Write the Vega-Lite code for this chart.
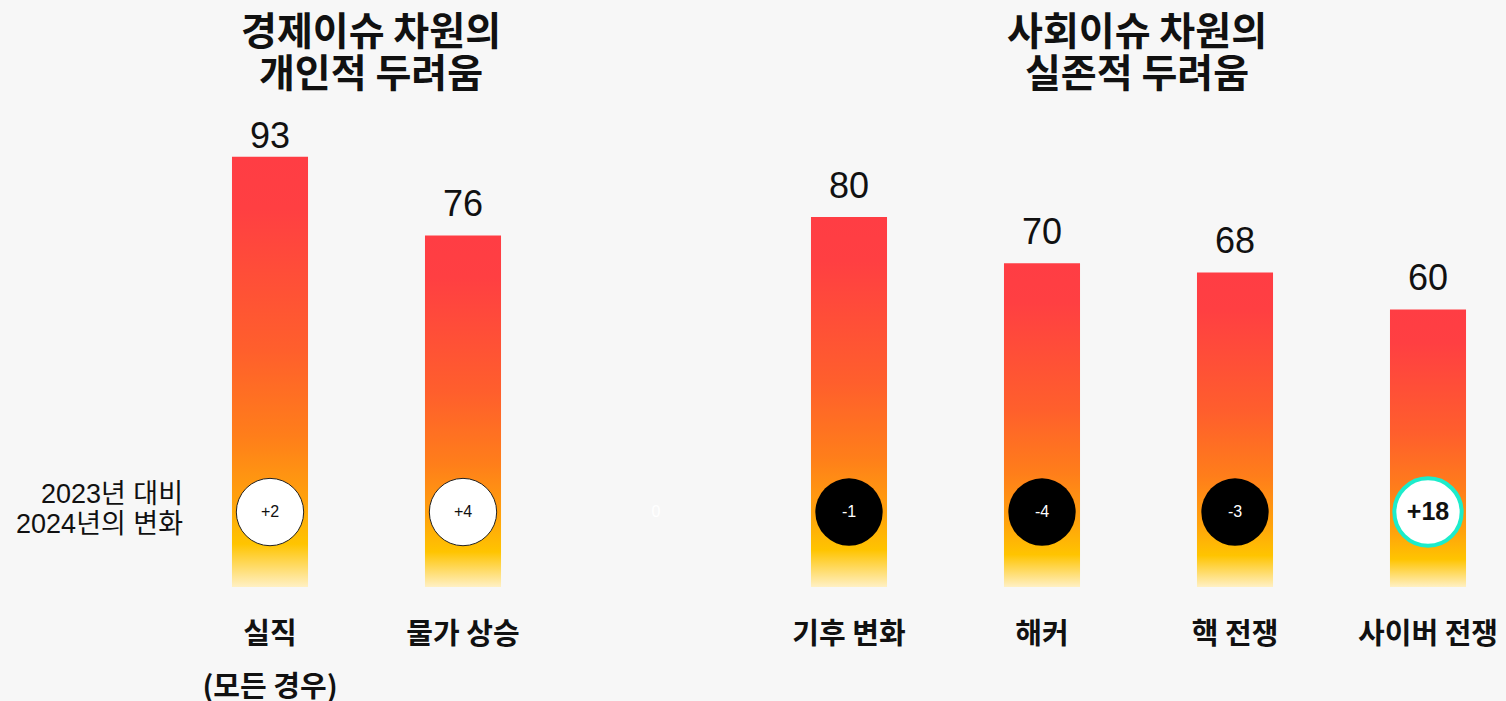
{
  "$schema": "https://vega.github.io/schema/vega-lite/v6.json",
  "width": 1506,
  "height": 701,
  "autosize": {"type": "none"},
  "padding": 0,
  "background": "#f7f7f7",
  "config": {"view": {"stroke": null}, "font": "Liberation Sans, Noto Sans CJK KR"},
  "data": {
    "values": [
      {"issue": "실직", "label": "실직\n(모든 경우)", "group": "경제", "value": 93, "change": 2},
      {"issue": "물가 상승", "label": "물가 상승", "group": "경제", "value": 76, "change": 4},
      {"issue": "_gap", "label": "", "group": "", "value": null, "change": 0},
      {"issue": "기후 변화", "label": "기후 변화", "group": "사회", "value": 80, "change": -1},
      {"issue": "해커", "label": "해커", "group": "사회", "value": 70, "change": -4},
      {"issue": "핵 전쟁", "label": "핵 전쟁", "group": "사회", "value": 68, "change": -3},
      {"issue": "사이버 전쟁", "label": "사이버 전쟁", "group": "사회", "value": 60, "change": 18}
    ]
  },
  "encoding": {
    "x": {
      "field": "issue",
      "type": "nominal",
      "sort": null,
      "axis": null,
      "scale": {
        "domain": ["실직", "물가 상승", "_gap", "기후 변화", "해커", "핵 전쟁", "사이버 전쟁"],
        "range": [173.5, 1524.5],
        "paddingInner": 0.606,
        "paddingOuter": 0.303
      }
    }
  },
  "layer": [
    {
      "transform": [{"filter": "isValid(datum.value)"}],
      "mark": {
        "type": "bar",
        "fill": {
          "gradient": "linear",
          "x1": 0, "y1": 0, "x2": 0, "y2": 1,
          "stops": [
            {"offset": 0, "color": "#ff3d44"},
            {"offset": 0.12, "color": "#ff3f42"},
            {"offset": 0.45, "color": "#ff5f2c"},
            {"offset": 0.65, "color": "#ff7e1a"},
            {"offset": 0.8, "color": "#ffa20c"},
            {"offset": 0.9, "color": "#ffc400"},
            {"offset": 1, "color": "#fff0c4"}
          ]
        }
      },
      "encoding": {
        "y": {"field": "value", "type": "quantitative", "axis": null, "scale": {"domain": [-24.65, 126.9], "nice": false, "zero": false}},
        "y2": {"datum": 0}
      }
    },
    {
      "transform": [{"filter": "isValid(datum.value) && datum.value > 90"}],
      "mark": {"type": "text", "baseline": "alphabetic", "dy": -9, "fontSize": 36, "font": "Liberation Sans", "color": "#111111"},
      "encoding": {
        "y": {"field": "value", "type": "quantitative"},
        "text": {"field": "value", "type": "quantitative"}
      }
    },
    {
      "transform": [{"filter": "isValid(datum.value) && datum.value <= 90"}],
      "mark": {"type": "text", "baseline": "alphabetic", "dy": -19, "fontSize": 36, "font": "Liberation Sans", "color": "#111111"},
      "encoding": {
        "y": {"field": "value", "type": "quantitative"},
        "text": {"field": "value", "type": "quantitative"}
      }
    },
    {
      "transform": [{"filter": "datum.change != 0"}],
      "mark": {"type": "point", "shape": "circle", "size": 4536, "filled": true, "opacity": 1},
      "encoding": {
        "y": {"datum": 16.2},
        "fill": {"condition": {"test": "datum.change < 0", "value": "#000000"}, "value": "#ffffff"},
        "stroke": {"condition": {"test": "datum.change >= 10", "value": "#1ceccb"}, "value": "#222222"},
        "strokeWidth": {"condition": {"test": "datum.change >= 10", "value": 4}, "value": 1},
        "strokeOpacity": {"condition": {"test": "datum.change < 0", "value": 0}, "value": 1}
      }
    },
    {
      "transform": [
        {"filter": "abs(datum.change) < 10"},
        {"calculate": "datum.change > 0 ? '+' + datum.change : '' + datum.change", "as": "chg"}
      ],
      "mark": {"type": "text", "baseline": "middle", "fontSize": 16, "font": "Liberation Sans"},
      "encoding": {
        "y": {"datum": 16.2},
        "text": {"field": "chg", "type": "nominal"},
        "color": {"condition": {"test": "datum.change <= 0", "value": "#ffffff"}, "value": "#111111"}
      }
    },
    {
      "transform": [
        {"filter": "abs(datum.change) >= 10"},
        {"calculate": "'+' + datum.change", "as": "chg"}
      ],
      "mark": {"type": "text", "baseline": "middle", "fontSize": 25, "fontWeight": "bold", "font": "Liberation Sans", "color": "#111111"},
      "encoding": {
        "y": {"datum": 16.2},
        "text": {"field": "chg", "type": "nominal"}
      }
    },
    {
      "mark": {"type": "text", "baseline": "alphabetic", "fontSize": 29, "fontWeight": "bold", "font": "Noto Sans CJK KR", "lineBreak": "\n", "lineHeight": 53, "color": "#111111"},
      "encoding": {
        "y": {"datum": -12.4},
        "text": {"field": "label", "type": "nominal"}
      }
    },
    {
      "transform": [{"filter": "datum.issue == '실직'"}],
      "mark": {"type": "text", "align": "right", "baseline": "middle", "dx": -87, "dy": -17, "fontSize": 27, "lineBreak": "\n", "lineHeight": 30, "color": "#111111", "text": "2023년 대비\n2024년의 변화"},
      "encoding": {
        "y": {"datum": 16.2}
      }
    },
    {
      "transform": [{"filter": "datum.issue == '실직'"}],
      "mark": {"type": "text", "align": "center", "baseline": "middle", "dx": 101, "fontSize": 39, "fontWeight": "bold", "font": "Noto Sans CJK KR", "lineBreak": "\n", "lineHeight": 42, "color": "#111111", "text": "경제이슈 차원의\n개인적 두려움"},
      "encoding": {
        "y": {"datum": 119.8}
      }
    },
    {
      "transform": [{"filter": "datum.issue == '해커'"}],
      "mark": {"type": "text", "align": "center", "baseline": "middle", "dx": 95, "fontSize": 39, "fontWeight": "bold", "font": "Noto Sans CJK KR", "lineBreak": "\n", "lineHeight": 42, "color": "#111111", "text": "사회이슈 차원의\n실존적 두려움"},
      "encoding": {
        "y": {"datum": 119.8}
      }
    }
  ]
}
